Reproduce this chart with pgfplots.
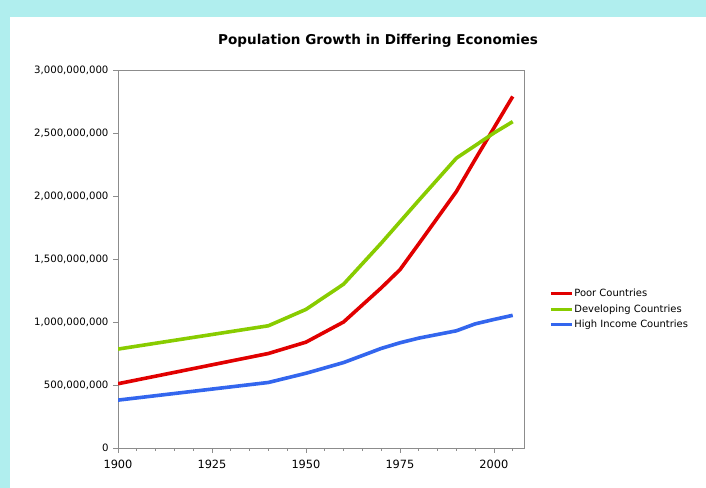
\documentclass[border=0pt]{standalone}
\usepackage{fontspec}
\setmainfont{DejaVu Sans}
\usepackage{pgfplots}
\pgfplotsset{compat=1.18}
\definecolor{bgcyan}{RGB}{176,238,238}
\definecolor{cred}{RGB}{225,0,0}
\definecolor{cgreen}{RGB}{136,204,0}
\definecolor{cblue}{RGB}{51,102,238}
\definecolor{axgray}{RGB}{140,140,140}
\begin{document}
\begin{tikzpicture}[x=1bp,y=1bp]
\fill[bgcyan] (0,0) rectangle (706,488);
\fill[white] (10,0) rectangle (706,471);
\node[font=\bfseries\fontsize{13.6}{16}\selectfont] at (378,447.5) {Population Growth in Differing Economies};
\begin{axis}[
  at={(118bp,40bp)}, anchor=south west,
  scale only axis, width=406bp, height=378bp,
  xmin=1900, xmax=2008, ymin=0, ymax=3000000000,
  xtick={1900,1925,1950,1975,2000},
  xticklabels={1900,1925,1950,1975,2000},
  minor xtick={1905,1910,1915,1920,1930,1935,1940,1945,1955,1960,1965,1970,1980,1985,1990,1995,2005},
  ytick={0,500000000,1000000000,1500000000,2000000000,2500000000,3000000000},
  yticklabels={0,{500,000,000},{1,000,000,000},{1,500,000,000},{2,000,000,000},{2,500,000,000},{3,000,000,000}},
  scaled y ticks=false,
  tick align=outside, tick pos=left,
  major tick length=5bp, minor tick length=3bp,
  every tick/.style={axgray, line width=0.6bp},
  axis line style={axgray, line width=0.8bp},
  x tick label style={font=\fontsize{11.4}{13}\selectfont, yshift=-3.5bp},
  y tick label style={font=\fontsize{10.2}{12}\selectfont, xshift=-1bp},
  legend style={draw=none, fill=none, at={(1.062,0.424)}, anchor=north west,
    font=\fontsize{10}{12}\selectfont, row sep=4.5bp, inner sep=0pt,
    nodes={inner sep=1bp}},
  legend cell align=left,
  legend image code/.code={\draw[#1, line width=3bp] (0bp,0bp) -- (21bp,0bp);},
  every axis plot/.append style={line width=3.6bp, line join=round},
]
\addplot[cred, mark=none] coordinates {
(1900,510000000) (1940,750000000) (1950,840000000) (1960,1000000000)
(1970,1270000000) (1975,1415000000) (1980,1620000000) (1990,2035000000)
(1995,2290000000) (2000,2540000000) (2005,2790000000)};
\addlegendentry{Poor Countries}
\addplot[cgreen, mark=none] coordinates {
(1900,785000000) (1940,970000000) (1950,1100000000) (1960,1300000000)
(1970,1625000000) (1975,1795000000) (1980,1965000000) (1990,2300000000)
(1995,2400000000) (2000,2500000000) (2005,2590000000)};
\addlegendentry{Developing Countries}
\addplot[cblue, mark=none] coordinates {
(1900,380000000) (1940,520000000) (1950,593000000) (1960,678000000)
(1970,790000000) (1975,835000000) (1980,872000000) (1990,930000000)
(1995,985000000) (2000,1020000000) (2005,1053000000)};
\addlegendentry{High Income Countries}
\end{axis}
\end{tikzpicture}
\end{document}
